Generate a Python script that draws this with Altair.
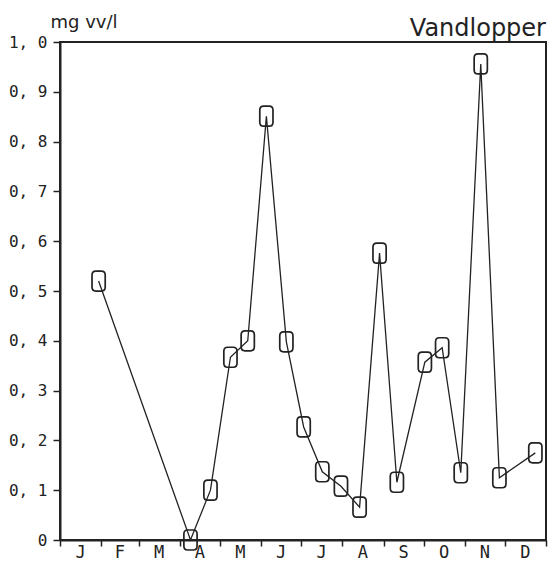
import altair as alt
import pandas as pd

# Day of year of each sample and biomass (mg vv/l)
days = [29, 98, 113, 128, 141, 155, 170, 183, 197, 211, 225, 240, 253, 274, 287, 301, 316, 330, 357]
values = [0.52, 0.0, 0.10, 0.367, 0.40, 0.851, 0.398, 0.227, 0.137, 0.108, 0.066, 0.576,
          0.116, 0.357, 0.386, 0.135, 0.956, 0.125, 0.175]

month_labels = ["J", "F", "M", "A", "M", "J", "J", "A", "S", "O", "N", "D"]
month_starts = [0, 31, 59, 90, 120, 151, 181, 212, 243, 273, 304, 334, 365]
month_mids = [15.5, 45, 74.5, 105, 135.5, 166, 196.5, 227.5, 258, 288.5, 319, 349.5]
y_ticks = [0, 0.1, 0.2, 0.3, 0.4, 0.5, 0.6, 0.7, 0.8, 0.9, 1.0]

df = pd.DataFrame({"day": days, "value": values})
mdf = pd.DataFrame({"mid": month_mids, "label": month_labels})

MONO = "DejaVu Sans Mono"
SANS = "DejaVu Sans"
INK = "#222222"

xscale = alt.Scale(domain=[0, 365], nice=False, zero=False)
yscale = alt.Scale(domain=[0, 1], nice=False)

xaxis = alt.Axis(values=month_starts, labels=False, title=None, grid=False,
                 tickSize=6, tickColor=INK, domainColor=INK, domainWidth=2, tickWidth=1.5)
yaxis = alt.Axis(values=y_ticks, grid=False, tickSize=7, tickColor=INK, tickWidth=1.5,
                 domainColor=INK, domainWidth=2,
                 labelExpr="datum.value == 0 ? '0' : replace(format(datum.value, '.1f'), '.', ', ')",
                 labelFont=MONO, labelFontSize=16, labelColor=INK, labelPadding=6,
                 title="mg vv/l", titleAngle=0, titleAlign="left", titleBaseline="alphabetic",
                 titleX=-10, titleY=-15, titleFont=SANS, titleFontSize=18,
                 titleFontWeight="normal", titleColor=INK)

rr = ("M -0.28,-1 L 0.28,-1 Q 0.66,-1 0.66,-0.6 L 0.66,0.6 Q 0.66,1 0.28,1 "
      "L -0.28,1 Q -0.66,1 -0.66,0.6 L -0.66,-0.6 Q -0.66,-1 -0.28,-1 Z")

base = alt.Chart(df)
line = base.mark_line(color=INK, strokeWidth=1.3).encode(
    x=alt.X("day:Q", scale=xscale, axis=xaxis),
    y=alt.Y("value:Q", scale=yscale, axis=yaxis),
)
pts = base.mark_point(shape=rr, size=400, filled=False, fillOpacity=0, stroke=INK,
                      strokeWidth=1.7, opacity=1).encode(
    x=alt.X("day:Q", scale=xscale),
    y=alt.Y("value:Q", scale=yscale),
)
months = alt.Chart(mdf).mark_text(font=MONO, fontSize=17, color=INK, baseline="middle").encode(
    x=alt.X("mid:Q", scale=xscale),
    y=alt.value(511),
    text="label:N",
)
title = alt.Chart(pd.DataFrame({"t": ["Vandlopper"]})).mark_text(
    font=SANS, fontSize=24, color=INK, align="right", baseline="alphabetic"
).encode(x=alt.value(486), y=alt.value(-6), text="t:N")

chart = alt.layer(line, pts, months, title).properties(
    width=486, height=498,
    autosize=alt.AutoSizeParams(type="none"),
    padding={"left": 60, "top": 42, "right": 2, "bottom": 36},
).configure(background="white").configure_view(stroke=INK, strokeWidth=2)

chart.save("out.html", embed_options={"renderer": "svg", "actions": False})
